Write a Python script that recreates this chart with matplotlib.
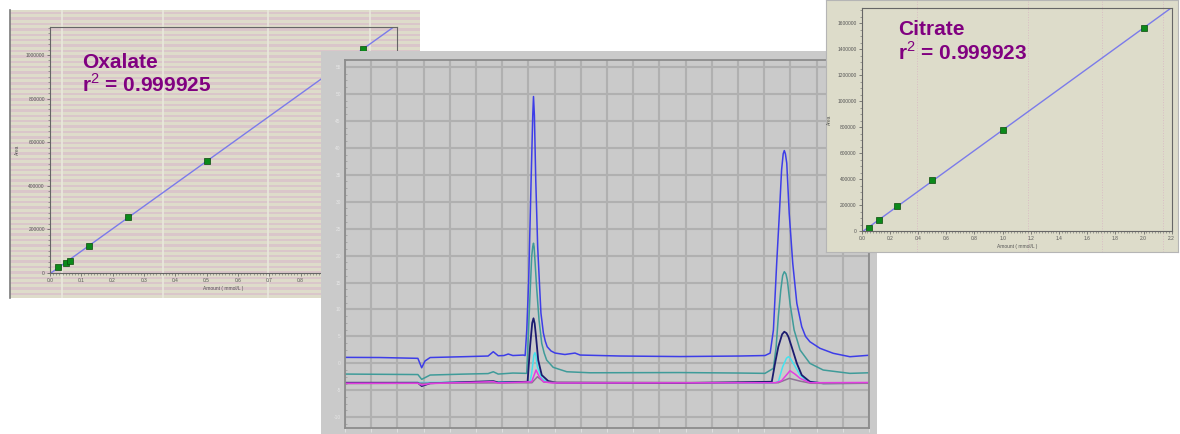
import numpy as np
import matplotlib.pyplot as plt
from matplotlib.ticker import MultipleLocator

plt.rcParams['font.family'] = ['Liberation Sans', 'DejaVu Sans']
plt.rcParams['mathtext.fontset'] = 'custom'
plt.rcParams['mathtext.rm'] = 'Liberation Sans'
plt.rcParams['mathtext.bf'] = 'Liberation Sans:bold'

W, H = 1180, 434

# calibration data (amount mmol/L, peak area)
ox_amount = [0.025, 0.05, 0.0625, 0.125, 0.25, 0.5, 1.0]
ox_area = [27000, 44000, 56000, 123000, 256000, 514000, 1027000]
ci_amount = [0.05, 0.125, 0.25, 0.5, 1.0, 2.0]
ci_area = [25000, 84000, 190000, 392000, 778000, 1561000]

# chromatogram traces: time (min), signal
blue_t = [0.18, 1.47, 2.86, 3.00, 3.12, 3.31, 4.52, 5.44, 5.63, 5.81, 6.02, 6.18, 6.35, 6.73,
          6.80, 6.86, 6.93, 7.02, 7.08, 7.107, 7.14, 7.19, 7.26, 7.32, 7.38, 7.47, 7.54, 7.61,
          7.75, 7.90, 8.26, 8.63, 8.82, 10.29, 12.49, 14.69, 15.61, 15.80, 15.92, 16.04, 16.14,
          16.22, 16.28, 16.32, 16.36, 16.41, 16.50, 16.63, 16.78, 16.96, 17.10, 17.26, 17.63,
          18.12, 18.73, 19.43]
blue_s = [1.11, 1.08, 0.93, -0.82, 0.43, 1.08, 1.23, 1.36, 2.16, 1.41, 1.45, 1.73, 1.45, 1.54,
          1.45, 6.19, 15.47, 34.05, 46.00, 49.52, 46.00, 34.05, 21.66, 15.47, 9.34, 5.63, 4.10, 3.08,
          2.30, 1.91, 1.64, 1.91, 1.54, 1.36, 1.26, 1.36, 1.45, 1.90, 6.19, 18.57, 27.86,
          35.90, 38.90, 39.49, 38.90, 37.15, 27.86, 18.57, 11.14, 6.80, 5.00, 4.01, 2.79,
          1.86, 1.23, 1.50]

teal_t = [0.18, 2.86, 3.00, 3.31, 4.52, 5.44, 5.63, 5.81, 6.35, 6.86, 6.95, 7.04, 7.08, 7.107,
          7.13, 7.16, 7.22, 7.31, 7.41, 7.50, 7.59, 7.83, 8.33, 9.18, 12.49, 14.69, 15.61, 15.92,
          16.02, 16.10, 16.19, 16.26, 16.32, 16.38, 16.43, 16.53, 16.68, 16.90, 17.26, 17.75,
          18.73, 19.43]
teal_s = [-1.99, -2.08, -2.97, -2.17, -2.00, -1.90, -1.56, -1.99, -1.80, -1.86, 9.29, 19.80, 21.70, 22.29,
          21.60, 19.19, 14.23, 8.04, 3.71, 1.90, 0.61, -0.74, -1.56, -1.75, -1.71, -1.80, -1.86, -0.93,
          3.08, 8.66, 13.61, 16.30, 17.01, 16.60, 15.47, 11.14, 6.19, 2.47, 0.00, -1.24,
          -1.86, -1.75]

navy_t = [0.18, 2.86, 3.00, 3.31, 5.63, 5.81, 6.89, 6.98, 7.06, 7.107, 7.15, 7.20, 7.28, 7.41,
          7.65, 7.96, 12.49, 15.86, 15.98, 16.10, 16.24, 16.32, 16.40, 16.47, 16.59, 16.78,
          16.96, 17.26, 17.75, 19.43]
navy_s = [-3.60, -3.60, -4.22, -3.70, -3.30, -3.55, -3.42, 3.08, 7.50, 8.36, 7.40, 4.94, 0.61, -2.17,
          -3.29, -3.60, -3.66, -3.42, 0.00, 3.08, 5.40, 5.87, 5.60, 4.94, 3.08, 0.00,
          -2.17, -3.42, -3.71, -3.66]

cyan_t = [0.18, 6.98, 7.04, 7.12, 7.16, 7.20, 7.25, 7.41, 7.59, 8.00, 15.90, 16.10, 16.26, 16.40,
          16.47, 16.54, 16.65, 16.90, 17.14, 17.63, 19.43]
cyan_s = [-3.66, -3.42, -1.86, 1.50, 1.97, 1.40, -0.63, -2.79, -3.42, -3.66, -3.66, -3.42, -0.63, 0.95,
          1.23, 0.95, 0.00, -2.17, -3.23, -3.71, -3.66]

magenta_t = [0.18, 2.86, 3.00, 3.31, 5.63, 5.81, 7.04, 7.20, 7.32, 7.47, 7.80, 16.00, 16.22,
             16.53, 16.71, 16.90, 17.26, 19.43]
magenta_s = [-3.70, -3.70, -4.03, -3.75, -3.40, -3.65, -3.42, -1.24, -2.49, -3.42, -3.66, -3.60, -3.23,
             -1.37, -1.99, -2.79, -3.60, -3.55]

grey_t = [0.18, 7.05, 7.25, 7.50, 16.10, 16.50, 16.90, 17.30, 19.43]
grey_s = [-3.75, -3.60, -2.49, -3.50, -3.60, -2.79, -3.30, -3.70, -3.70]

chrom_ylabels = [-10, -5, 0, 5, 10, 15, 20, 25, 30, 35, 40, 45, 50, 55]


def px_rect(x0, y0, x1, y1):
    return [x0 / W, 1 - y1 / H, (x1 - x0) / W, (y1 - y0) / H]


def calib_axes(ax, xmax, xmajor, xminor, ymax, ymajor, yminor):
    ax.set_facecolor('none')
    ax.set_xlim(0, xmax)
    ax.set_ylim(0, ymax)
    ax.xaxis.set_major_locator(MultipleLocator(xmajor))
    ax.xaxis.set_minor_locator(MultipleLocator(xminor))
    ax.yaxis.set_major_locator(MultipleLocator(ymajor))
    ax.yaxis.set_minor_locator(MultipleLocator(yminor))
    ax.xaxis.set_major_formatter(lambda v, p: f'{v:.1f}')
    ax.yaxis.set_major_formatter(lambda v, p: f'{v:.0f}')
    ax.tick_params(which='major', length=2.2, width=0.5, labelsize=3.5, colors='#555555', pad=1.5)
    ax.tick_params(which='minor', length=1.2, width=0.4, colors='#666666')
    for s in ax.spines.values():
        s.set_color('#666666')
        s.set_linewidth(0.8)
    ax.set_xlabel('Amount ( mmol/L )', fontsize=3.5, color='#555555', labelpad=2)
    ax.set_ylabel('Area', fontsize=3.5, color='#555555', labelpad=4)


fig = plt.figure(figsize=(W / 100, H / 100), dpi=100)
fig.patch.set_facecolor('white')

# ---- oxalate calibration panel
bg1 = fig.add_axes(px_rect(10, 10, 420, 298), zorder=1)
bg1.set_facecolor('#dedcca')
bg1.set_xlim(10, 420)
bg1.set_ylim(298, 10)
for y in np.arange(12, 298, 5.4):
    bg1.axhspan(y, y + 2.4, color='#dac6ca', lw=0)
for x in [61.7, 163.3, 268.3, 370]:
    bg1.axvline(x, color='#e9e8dd', lw=1.2)
bg1.set_xticks([])
bg1.set_yticks([])
for s in ['top', 'right', 'bottom']:
    bg1.spines[s].set_visible(False)
bg1.spines['left'].set_color('#7a7a7a')
bg1.spines['left'].set_linewidth(1.2)

ax1 = fig.add_axes(px_rect(50, 26.7, 396.7, 272.7), zorder=2)
calib_axes(ax1, 1.107, 0.1, 0.01, 1.13e6, 200000, 25000)
fit1 = np.polyfit(ox_amount, ox_area, 1)
xs1 = np.array([0, 1.2])
ax1.plot(xs1, np.polyval(fit1, xs1), color='#7b7bea', lw=1.0)
ax1.plot(ox_amount, ox_area, 's', color='#0b8a1a', mec='#0a4a0a', mew=0.5, ms=3.8)

# ---- chromatogram panel
bg2 = fig.add_axes(px_rect(321, 50.7, 877, 434), zorder=3)
bg2.set_facecolor('#cacaca')
bg2.set_xticks([])
bg2.set_yticks([])
for s in bg2.spines.values():
    s.set_visible(False)

axc = fig.add_axes(px_rect(345, 60, 869, 428), zorder=4)
axc.set_facecolor('#cacaca')
t0, t1 = 0.183, 19.431
axc.set_xlim(t0, t1)
axc.set_ylim(-12.0, 56.3)
axc.set_xticks(np.linspace(t0, t1, 21))
axc.set_yticks(chrom_ylabels)
axc.set_yticklabels([str(v) for v in chrom_ylabels])
axc.yaxis.set_minor_locator(MultipleLocator(1.25))
axc.grid(True, color='#b0b0b0', lw=1.5)
axc.set_axisbelow(True)
axc.tick_params(axis='y', which='major', length=0, labelsize=3.5, labelcolor='#e6e6e6', pad=3)
axc.tick_params(axis='y', which='minor', length=1.5, width=0.5, colors='#9a9a9a', direction='in')
axc.tick_params(axis='x', length=3, width=0.6, colors='#e4e4e4', labelbottom=False)
for s in axc.spines.values():
    s.set_color('#8c8c8c')
    s.set_linewidth(1.3)

lw = 1.1
axc.plot(blue_t, blue_s, color='#3d3de8', lw=lw)
axc.plot(teal_t, teal_s, color='#3f9b99', lw=lw)
axc.plot(cyan_t, cyan_s, color='#45e3ee', lw=lw)
axc.plot(navy_t, navy_s, color='#1b1b70', lw=lw + 0.2)
axc.plot(grey_t, grey_s, color='#8e7296', lw=lw)
axc.plot(magenta_t, magenta_s, color='#e23ee0', lw=lw)

# ---- citrate calibration panel
bg3 = fig.add_axes(px_rect(826, 0, 1178, 252), zorder=5)
bg3.set_facecolor('#dddcca')
bg3.set_xlim(826, 1178)
bg3.set_ylim(252, 0)
for x in [916.7, 1028, 1101.7, 1163]:
    bg3.axvline(x, color='#d9bcc4', lw=0.7, ls=':')
bg3.set_xticks([])
bg3.set_yticks([])
for s in bg3.spines.values():
    s.set_color('#b5b5b5')
    s.set_linewidth(0.8)

ax3 = fig.add_axes(px_rect(861.7, 8.3, 1171.7, 231), zorder=6)
calib_axes(ax3, 2.2, 0.2, 0.02, 1.715e6, 200000, 50000)
fit3 = np.polyfit(ci_amount, ci_area, 1)
xs3 = np.array([0, 2.4])
ax3.plot(xs3, np.polyval(fit3, xs3), color='#7b7bea', lw=1.0)
ax3.plot(ci_amount, ci_area, 's', color='#0b8a1a', mec='#0a4a0a', mew=0.5, ms=3.8)

# ---- annotations
purple = '#800080'
tkw = dict(fontsize=15, fontweight='bold', color=purple, va='baseline', ha='left')
fig.text(81.7 / W, 1 - 67.7 / H, 'Oxalate', **tkw)
fig.text(81.7 / W, 1 - 91.7 / H, r'r$^{2}$ = 0.999925', **tkw)
fig.text(370 / W, 1 - 111.7 / H, 'Oxalate', **tkw)
fig.text(370 / W, 1 - 136.7 / H, r'$\mathbf{t_R}$ = 7.107 min', **tkw)
fig.text(610 / W, 1 - 111.7 / H, 'Citrate', **tkw)
fig.text(610 / W, 1 - 136.7 / H, r'$\mathbf{t_R}$ = 16.320 min', **tkw)
fig.text(898.3 / W, 1 - 35 / H, 'Citrate', zorder=10, **tkw)
fig.text(898.3 / W, 1 - 60 / H, r'r$^{2}$ = 0.999923', zorder=10, **tkw)

fig.savefig('out.png', dpi=100)
